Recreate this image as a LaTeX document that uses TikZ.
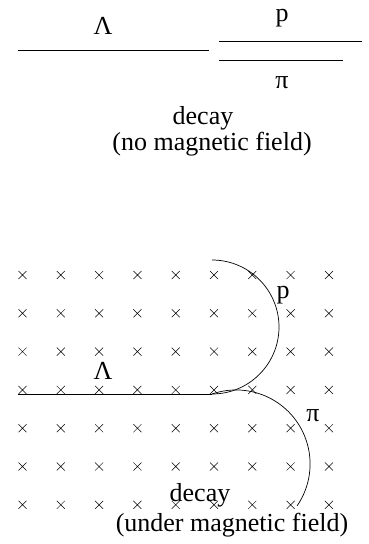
\documentclass[tikz,border=0pt]{standalone}
\usepackage{fontspec}
\setmainfont{Liberation Serif}
\usetikzlibrary{calc}

\begin{document}
\begin{tikzpicture}[x=1pt, y=-1pt, line width=0.7pt,
  every node/.style={font=\fontsize{26}{30}\selectfont, inner sep=0pt},
  track/.style={line width=0.7pt},
  cross/.style={line width=0.5pt}]
  \useasboundingbox (0,0) rectangle (368,544);
  % decay, no field
  \coordinate (lamA) at (18,50);
  \coordinate (lamB) at (209,50);
  \coordinate (protA) at (219,41);
  \coordinate (protB) at (362,41);
  \coordinate (pionA) at (219,60);
  \coordinate (pionB) at (343,60);
  \draw[track] (lamA) -- (lamB);
  \draw[track] (protA) -- (protB);
  \draw[track] (pionA) -- (pionB);
  \node (lamtop) at (103,26) {Λ};
  \node (ptop) at (282,18) {p};
  \node (pitop) at (282,83) {π};
  \node (decaytop) at (203,118) {decay};
  \node (nofield) at (212,144) {(no magnetic field)};
  % decay, field into page
  \foreach \i in {0,...,8} {
    \foreach \j in {0,...,6} {
      \draw[cross] ($(22.5+38.3*\i,275+38.3*\j)+(-4,-4)$) -- ++(8,8)
        ($(22.5+38.3*\i,275+38.3*\j)+(-4,4)$) -- ++(8,-8);
    }
  }
  \coordinate (lamC) at (18,394);
  \coordinate (vtx) at (212,394);
  \draw[track] (lamC) -- (vtx);
  \draw[track] (vtx) arc[start angle=90, end angle=-90, radius=67];
  \draw[track] (vtx) arc[start angle=-109, end angle=34.5, radius=74];
  \node (lambot) at (103,371) {Λ};
  \node (pbot) at (283,295) {p};
  \node (pibot) at (313,416) {π};
  \node (decaybot) at (200,495) {decay};
  \node (withfield) at (232,525) {(under magnetic field)};
\end{tikzpicture}
\end{document}
